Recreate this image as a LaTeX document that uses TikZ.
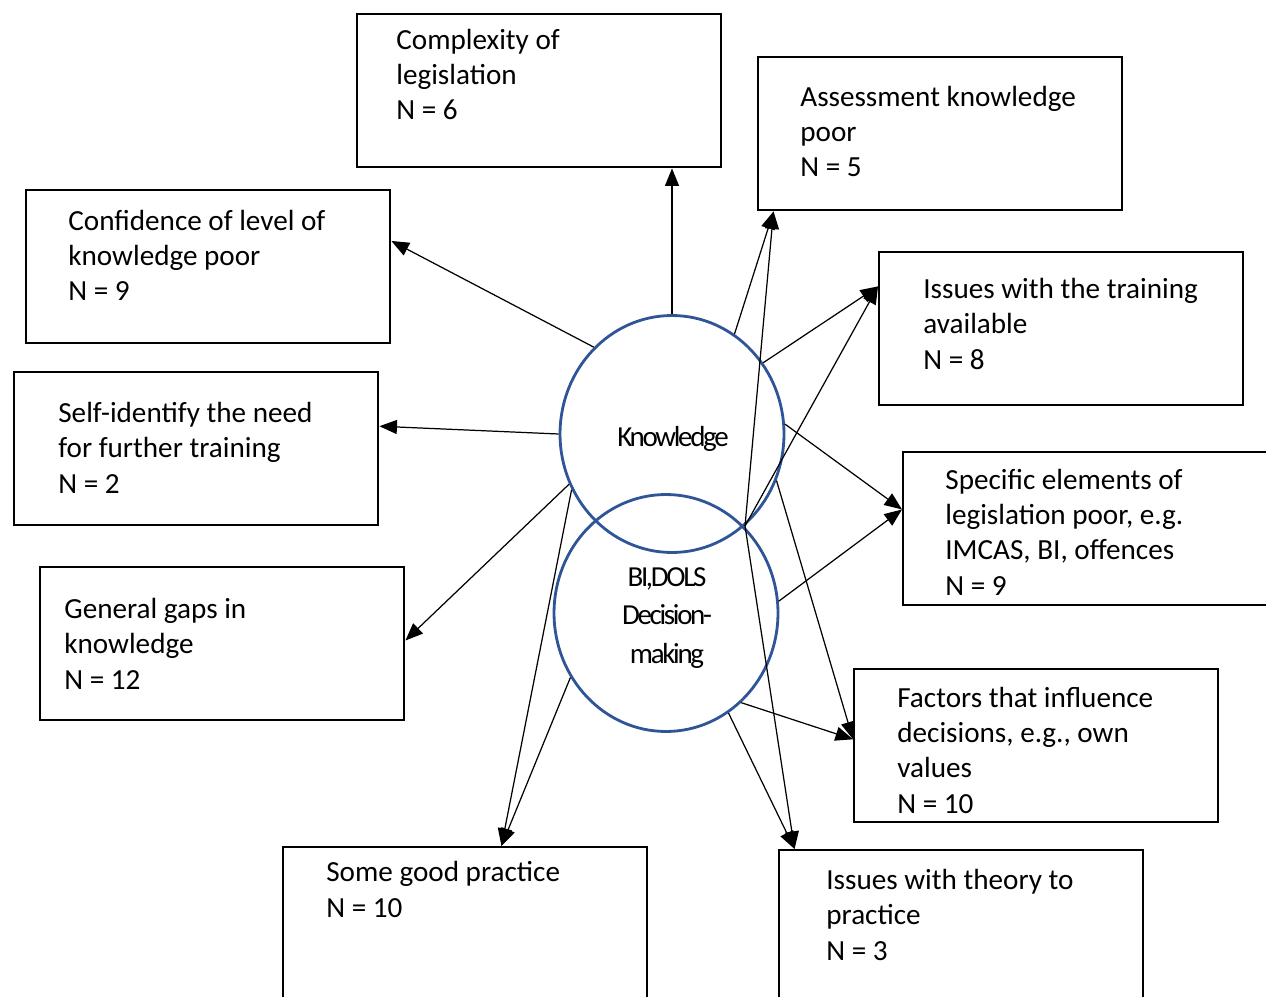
\documentclass[tikz,border=0pt]{standalone}
\usepackage{fontspec}
\setmainfont{Carlito}
\newfontfamily\tightfont[LetterSpace=-8]{Carlito}
\usetikzlibrary{arrows.meta}
\usetikzlibrary{shapes.geometric}

\definecolor{themeblue}{RGB}{47,85,151}

\begin{document}
\begin{tikzpicture}[x=0.02cm,y=-0.02cm,
    box/.style={draw,line width=1.4pt,anchor=north west,minimum width=7.28cm,minimum height=3.06cm,inner sep=0pt},
    txt/.style={anchor=base west,align=left,inner sep=0pt,font=\fontsize{16.6}{20.1}\selectfont},
    theme/.style={ellipse,draw=themeblue,line width=1.6pt,minimum width=4.48cm,minimum height=4.74cm,inner sep=0pt},
    themetxt/.style={align=center,inner sep=0pt,font=\tightfont\fontsize{16.5}{22.1}\selectfont},
    link/.style={line width=0.7pt,-{Triangle[length=10pt,width=8pt]}}]
            \useasboundingbox (0,0) rectangle (1266,996);
            \clip (0,0) rectangle (1266,996);
            \node[box] (b1) at (356,13) {};
            \node[box] (b2) at (757,56) {};
            \node[box] (b3) at (25,189) {};
            \node[box] (b4) at (878,251) {};
            \node[box] (b5) at (13,371) {};
            \node[box] (b6) at (902,451) {};
            \node[box] (b7) at (39,566) {};
            \node[box] (b8) at (853,668) {};
            \node[box] (b9) at (282,846) {};
            \node[box] (b10) at (778,849) {};
            \node[txt] (t1) at (396,120) {Complexity of\\legislation\\N = 6};
            \node[txt] (t2) at (800,177) {Assessment knowledge\\poor\\N = 5};
            \node[txt] (t3) at (68,301) {Confidence of level of\\knowledge poor\\N = 9};
            \node[txt] (t4) at (923,369) {Issues with the training\\available\\N = 8};
            \node[txt] (t5) at (58,493) {Self-identify the need\\for further training\\N = 2};
            \node[txt] (t6) at (945,595) {Specific elements of\\legislation poor, e.g.\\IMCAS, BI, offences\\N = 9};
            \node[txt] (t7) at (64,689) {General gaps in\\knowledge\\N = 12};
            \node[txt] (t8) at (897,813) {Factors that influence\\decisions, e.g., own\\values\\N = 10};
            \node[txt] (t9) at (326,917) {Some good practice\\N = 10};
            \node[txt] (t10) at (826,960) {Issues with theory to\\practice\\N = 3};
            \node[theme] (know) at (672,434) {};
            \node[theme] (dec) at (666,613) {};
            \node[themetxt] (knowtxt) at (673,439) {Knowledge};
            \node[themetxt] (dectxt) at (667,618) {BI,DOLS\\Decision-\\making};
            \coordinate (meet) at (745,526);
            \draw[link] (know.north) -- (know.north |- b1.south);
            \draw[link] (know.132) -- (b3.8);
            \draw[link] (know.180) -- (b5.7);
            \draw[link] (know.206) -- (b7.1);
            \draw[link] (know.209) -- (b9.65);
            \draw[link] (dec.214) -- (b9.65);
            \draw[link] (know.58) -- (b2.205);
            \draw[link] (meet) -- (b2.205);
            \draw[link] (know.38) -- (b4.167);
            \draw[link] (meet) -- (b4.167);
            \draw[link] (know.5) -- (b6.174);
            \draw[link] (dec.6) -- (b6.174);
            \draw[link] (know.-24) -- (b8.178);
            \draw[link] (dec.-50) -- (b8.178);
            \draw[link] (meet) -- (b10.155);
            \draw[link] (dec.-58) -- (b10.155);
        \end{tikzpicture}
\end{document}
